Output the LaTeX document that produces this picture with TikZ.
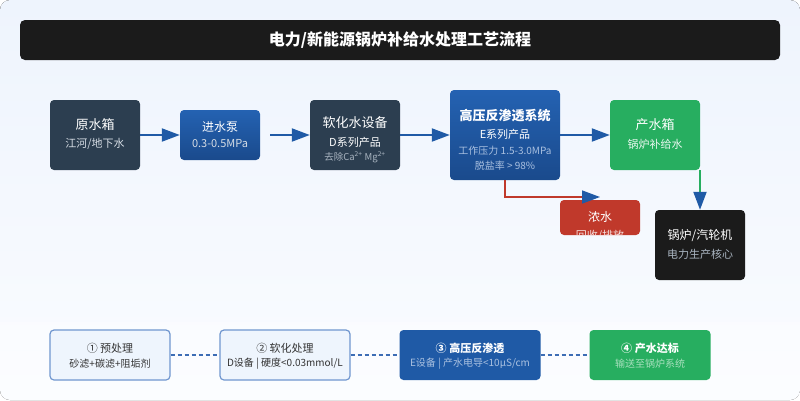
\documentclass[tikz,border=0pt]{standalone}
\usepackage{fontspec}
\setmainfont{Noto Sans CJK SC}
\usetikzlibrary{arrows.meta,calc}
\definecolor{darkc}{HTML}{1B1B1B}
\definecolor{slate}{HTML}{2C3E50}
\definecolor{blueA}{HTML}{2462B2}
\definecolor{blueB}{HTML}{1A4A8C}
\definecolor{arrowblue}{HTML}{1F5AA6}
\definecolor{gr}{HTML}{27AE60}
\definecolor{redc}{HTML}{C0392B}
\definecolor{bgtop}{HTML}{EEF4FD}
\definecolor{bgbot}{HTML}{FAFCFF}
\definecolor{lightfill}{HTML}{EEF5FD}
\definecolor{lightborder}{HTML}{7097CF}
\definecolor{subgray}{HTML}{D5DCE4}
\definecolor{dimgray}{HTML}{A9B4C0}
\definecolor{dimblue}{HTML}{A9C0E0}
\definecolor{dimgreen}{HTML}{A8E0BE}
\definecolor{txtdark}{HTML}{333333}
\definecolor{dashblue}{HTML}{3D6DB5}
\begin{document}
\begin{tikzpicture}[x=1pt,y=-1pt,
  box/.style={rounded corners=4pt, inner sep=0pt, draw=none},
  boxslate/.style={box, fill=slate},
  boxblue/.style={box, top color=blueA, bottom color=blueB},
  boxlight/.style={box, fill=lightfill, draw=lightborder, line width=1.2pt},
  flow/.style={arrowblue, line width=2pt, -{Triangle[length=18pt,width=13pt]}},
  dashc/.style={dashblue, line width=1.5pt, dash pattern=on 4pt off 3pt},
  lbl/.style={inner sep=0pt, anchor=center},
  tA/.style={lbl, text=white, font=\fontsize{13}{15}\selectfont},
  tB/.style={lbl, text=subgray, font=\fontsize{11}{13}\selectfont},
  tC/.style={lbl, font=\fontsize{10}{12}\selectfont},
]
\useasboundingbox (0,0) rectangle (800,400);
\fill[rounded corners=10pt, top color=bgtop, bottom color=bgbot] (0,0) rectangle (800,400);
\begin{scope}
  \clip[rounded corners=10pt] (0,0) rectangle (800,400);
  \fill[white, opacity=0.35] (0,322) rectangle (800,400);
\end{scope}

% title
\node[box, fill=darkc, rounded corners=5pt, minimum width=760pt, minimum height=40pt] (title) at (400,40) {};
\node[lbl, text=white, font=\bfseries\fontsize{16}{18}\selectfont] (titleT) at (400,40) {电力/新能源锅炉补给水处理工艺流程};

% main boxes
\node[boxslate, minimum width=90pt, minimum height=70pt] (raw) at (95,135) {};
\node[tA] (rawA) at (95,125) {原水箱};
\node[tB] (rawB) at (95,144) {江河/地下水};

\node[boxblue, minimum width=80pt, minimum height=50pt] (pump) at (220,135) {};
\node[tA, font=\fontsize{12}{14}\selectfont] (pumpA) at (220,127) {进水泵};
\node[tB] (pumpB) at (220,144) {0.3-0.5MPa};

\node[boxslate, minimum width=90pt, minimum height=70pt] (soft) at (355,135) {};
\node[tA] (softA) at (355,123) {软化水设备};
\node[tB, text=white] (softB) at (355,142) {D系列产品};
\node[tC, text=dimgray, font=\fontsize{9.5}{11}\selectfont] (softC) at (355,157) {去除Ca\textsuperscript{2+} Mg\textsuperscript{2+}};

\node[boxblue, minimum width=110pt, minimum height=90pt] (ro) at (505,135) {};
\node[tA, font=\bfseries\fontsize{13}{15}\selectfont] (roA) at (505,116) {高压反渗透系统};
\node[tB, text=white] (roB) at (505,134) {E系列产品};
\node[tC, text=dimblue] (roC) at (505,151) {工作压力 1.5-3.0MPa};
\node[tC, text=dimblue] (roD) at (505,166) {脱盐率 > 98\%};

\node[box, fill=gr, minimum width=90pt, minimum height=70pt] (cs) at (655,135) {};
\node[tA] (csA) at (655,125) {产水箱};
\node[tB, text=white!90!gr] (csB) at (655,144) {锅炉补给水};

\node[box, fill=redc, minimum width=80pt, minimum height=35pt] (conc) at (600,217.5) {};
\node[tA, font=\fontsize{12}{14}\selectfont] (concA) at (600,217) {浓水};
\begin{scope}
  \clip[rounded corners=4pt] (conc.north west) rectangle (conc.south east);
  \node[tB, text=white!85!redc] (concB) at (600,236) {回收/排放};
\end{scope}

\node[box, fill=darkc, minimum width=90pt, minimum height=70pt] (boiler) at (700,245) {};
\node[tA, font=\fontsize{12}{14}\selectfont] (boilerA) at (700,236) {锅炉/汽轮机};
\node[tB, text=dimgray] (boilerB) at (700,254) {电力生产核心};

% connectors
\draw[flow] (raw.east) -- (pump.west);
\draw[flow, shorten <=10pt] (pump.east) -- (soft.west);
\draw[flow] (soft.east) -- (ro.west);
\draw[flow] (ro.east) -- (cs.west);
\coordinate (cw) at (600,197);
\draw[redc, line width=1.5pt, -{Triangle[length=18pt,width=13pt,color=arrowblue]}] (ro.south) |- (cw);
\draw[gr, line width=2pt, -{Triangle[length=18pt,width=13pt,color=arrowblue]}] (boiler.north |- cs.south) -- (boiler.north);

% bottom stages
\node[boxlight, minimum width=120pt, minimum height=50pt] (s1) at (110,355) {};
\node[tC, text=txtdark, font=\fontsize{11}{13}\selectfont] (s1A) at (110,348) {① 预处理};
\node[tC, text=txtdark] (s1B) at (110,364) {砂滤+碳滤+阻垢剂};

\node[boxlight, minimum width=130pt, minimum height=50pt] (s2) at (285,355) {};
\node[tC, text=txtdark, font=\fontsize{11}{13}\selectfont] (s2A) at (285,348) {② 软化处理};
\node[tC, text=txtdark] (s2B) at (285,364) {D设备 | 硬度<0.03mmol/L};

\node[box, fill=arrowblue, minimum width=141pt, minimum height=50pt] (s3) at (470,355) {};
\node[tC, text=white, font=\bfseries\fontsize{11}{13}\selectfont] (s3A) at (470,348) {③ 高压反渗透};
\node[tC, text=dimblue] (s3B) at (470,364) {E设备 | 产水电导<10μS/cm};

\node[box, fill=gr, minimum width=121pt, minimum height=50pt] (s4) at (650,355) {};
\node[tC, text=white, font=\bfseries\fontsize{11}{13}\selectfont] (s4A) at (650,348) {④ 产水达标};
\node[tC, text=dimgreen] (s4B) at (650,364) {输送至锅炉系统};

\draw[dashc] (s1.east) -- (s2.west);
\draw[dashc] (s2.east) -- (s3.west);
\draw[dashc] (s3.east) -- (s4.west);
\end{tikzpicture}
\end{document}
